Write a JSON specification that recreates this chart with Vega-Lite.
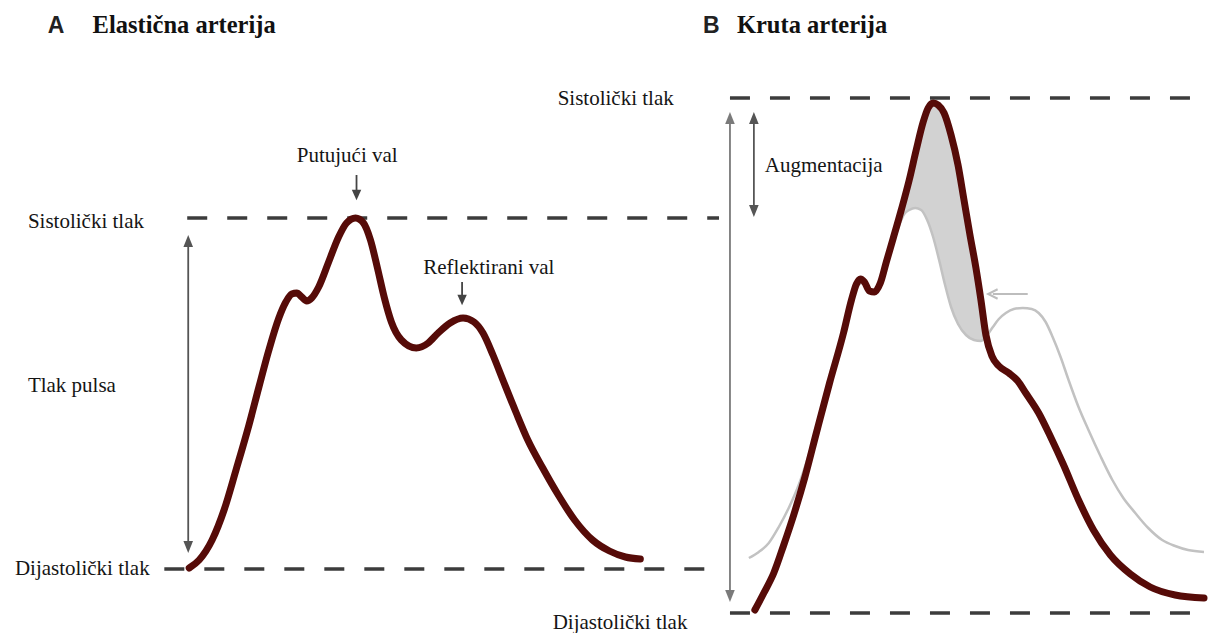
{
  "$schema": "https://vega.github.io/schema/vega-lite/v6.json",
  "width": 1209,
  "height": 633,
  "autosize": {"type": "fit", "contains": "padding"},
  "padding": 0,
  "background": "white",
  "config": {"view": {"stroke": null}},
  "datasets": {
    "dashes": [
      {"x": 188, "x2": 722, "y": 218},
      {"x": 165, "x2": 718, "y": 569},
      {"x": 733, "x2": 1209, "y": 98},
      {"x": 733, "x2": 1209, "y": 613}
    ],
    "fill": [
      {"x": 903, "top": 217, "bottom": 225},
      {"x": 907, "top": 200, "bottom": 215},
      {"x": 913, "top": 180, "bottom": 210},
      {"x": 919, "top": 154, "bottom": 208},
      {"x": 925, "top": 130, "bottom": 210},
      {"x": 931, "top": 111, "bottom": 220},
      {"x": 937, "top": 103, "bottom": 237},
      {"x": 943, "top": 106, "bottom": 260},
      {"x": 949, "top": 115, "bottom": 285},
      {"x": 955, "top": 135, "bottom": 307},
      {"x": 962, "top": 165, "bottom": 324},
      {"x": 968, "top": 200, "bottom": 334},
      {"x": 974, "top": 235, "bottom": 339},
      {"x": 980, "top": 268, "bottom": 341},
      {"x": 985, "top": 300, "bottom": 341},
      {"x": 989, "top": 328, "bottom": 338},
      {"x": 991, "top": 337, "bottom": 337}
    ],
    "gray": [
      {"x": 752, "y": 558}, {"x": 762, "y": 552}, {"x": 772, "y": 543}, {"x": 782, "y": 527},
      {"x": 792, "y": 508}, {"x": 802, "y": 485}, {"x": 812, "y": 455}, {"x": 822, "y": 420},
      {"x": 833, "y": 383}, {"x": 843, "y": 345}, {"x": 852, "y": 310}, {"x": 860, "y": 287},
      {"x": 866, "y": 283}, {"x": 872, "y": 290}, {"x": 878, "y": 292}, {"x": 884, "y": 284},
      {"x": 890, "y": 265}, {"x": 897, "y": 243}, {"x": 903, "y": 225}, {"x": 908, "y": 214},
      {"x": 913, "y": 210}, {"x": 919, "y": 208}, {"x": 925, "y": 210}, {"x": 931, "y": 220},
      {"x": 937, "y": 237}, {"x": 943, "y": 260}, {"x": 949, "y": 285}, {"x": 955, "y": 307},
      {"x": 962, "y": 324}, {"x": 970, "y": 335}, {"x": 978, "y": 340}, {"x": 985, "y": 341},
      {"x": 990, "y": 337}, {"x": 997, "y": 327}, {"x": 1003, "y": 319}, {"x": 1010, "y": 313},
      {"x": 1018, "y": 309}, {"x": 1027, "y": 308}, {"x": 1036, "y": 309}, {"x": 1043, "y": 313},
      {"x": 1050, "y": 322}, {"x": 1057, "y": 337}, {"x": 1065, "y": 357}, {"x": 1073, "y": 380},
      {"x": 1083, "y": 407}, {"x": 1093, "y": 430}, {"x": 1105, "y": 456}, {"x": 1117, "y": 480},
      {"x": 1128, "y": 498}, {"x": 1140, "y": 513}, {"x": 1153, "y": 528}, {"x": 1167, "y": 540},
      {"x": 1180, "y": 546}, {"x": 1193, "y": 550}, {"x": 1209, "y": 552}
    ],
    "red": [
      {"curve": "A", "x": 190, "y": 568}, {"curve": "A", "x": 200, "y": 560}, {"curve": "A", "x": 213, "y": 540},
      {"curve": "A", "x": 225, "y": 510}, {"curve": "A", "x": 237, "y": 470}, {"curve": "A", "x": 250, "y": 425},
      {"curve": "A", "x": 260, "y": 387}, {"curve": "A", "x": 270, "y": 350}, {"curve": "A", "x": 280, "y": 318},
      {"curve": "A", "x": 287, "y": 302}, {"curve": "A", "x": 293, "y": 294}, {"curve": "A", "x": 298, "y": 293},
      {"curve": "A", "x": 303, "y": 297}, {"curve": "A", "x": 308, "y": 301}, {"curve": "A", "x": 313, "y": 298},
      {"curve": "A", "x": 320, "y": 287}, {"curve": "A", "x": 330, "y": 262}, {"curve": "A", "x": 340, "y": 237},
      {"curve": "A", "x": 348, "y": 223}, {"curve": "A", "x": 357, "y": 218}, {"curve": "A", "x": 365, "y": 223},
      {"curve": "A", "x": 372, "y": 240}, {"curve": "A", "x": 379, "y": 268}, {"curve": "A", "x": 386, "y": 298},
      {"curve": "A", "x": 393, "y": 322}, {"curve": "A", "x": 403, "y": 340}, {"curve": "A", "x": 418, "y": 348},
      {"curve": "A", "x": 430, "y": 343}, {"curve": "A", "x": 440, "y": 333}, {"curve": "A", "x": 452, "y": 323},
      {"curve": "A", "x": 465, "y": 318}, {"curve": "A", "x": 476, "y": 322}, {"curve": "A", "x": 485, "y": 333},
      {"curve": "A", "x": 495, "y": 355}, {"curve": "A", "x": 505, "y": 380}, {"curve": "A", "x": 518, "y": 412},
      {"curve": "A", "x": 530, "y": 440}, {"curve": "A", "x": 545, "y": 468}, {"curve": "A", "x": 560, "y": 494},
      {"curve": "A", "x": 577, "y": 520}, {"curve": "A", "x": 595, "y": 540}, {"curve": "A", "x": 612, "y": 551},
      {"curve": "A", "x": 628, "y": 557}, {"curve": "A", "x": 643, "y": 559},
      {"curve": "B", "x": 758, "y": 610}, {"curve": "B", "x": 767, "y": 593}, {"curve": "B", "x": 777, "y": 573},
      {"curve": "B", "x": 787, "y": 545}, {"curve": "B", "x": 797, "y": 515}, {"curve": "B", "x": 808, "y": 478},
      {"curve": "B", "x": 820, "y": 432}, {"curve": "B", "x": 833, "y": 383}, {"curve": "B", "x": 847, "y": 333},
      {"curve": "B", "x": 855, "y": 300}, {"curve": "B", "x": 860, "y": 284}, {"curve": "B", "x": 864, "y": 279},
      {"curve": "B", "x": 868, "y": 282}, {"curve": "B", "x": 873, "y": 291}, {"curve": "B", "x": 878, "y": 292},
      {"curve": "B", "x": 884, "y": 283}, {"curve": "B", "x": 890, "y": 262}, {"curve": "B", "x": 897, "y": 238},
      {"curve": "B", "x": 905, "y": 210}, {"curve": "B", "x": 913, "y": 180}, {"curve": "B", "x": 920, "y": 150},
      {"curve": "B", "x": 927, "y": 122}, {"curve": "B", "x": 932, "y": 108}, {"curve": "B", "x": 937, "y": 103},
      {"curve": "B", "x": 942, "y": 105}, {"curve": "B", "x": 948, "y": 113}, {"curve": "B", "x": 955, "y": 135},
      {"curve": "B", "x": 962, "y": 165}, {"curve": "B", "x": 968, "y": 200}, {"curve": "B", "x": 974, "y": 235},
      {"curve": "B", "x": 980, "y": 268}, {"curve": "B", "x": 985, "y": 300}, {"curve": "B", "x": 990, "y": 335},
      {"curve": "B", "x": 996, "y": 356}, {"curve": "B", "x": 1003, "y": 366}, {"curve": "B", "x": 1013, "y": 373},
      {"curve": "B", "x": 1022, "y": 381}, {"curve": "B", "x": 1030, "y": 393}, {"curve": "B", "x": 1043, "y": 413},
      {"curve": "B", "x": 1055, "y": 437}, {"curve": "B", "x": 1068, "y": 465}, {"curve": "B", "x": 1083, "y": 500},
      {"curve": "B", "x": 1098, "y": 530}, {"curve": "B", "x": 1115, "y": 555}, {"curve": "B", "x": 1135, "y": 574},
      {"curve": "B", "x": 1155, "y": 587}, {"curve": "B", "x": 1180, "y": 595}, {"curve": "B", "x": 1209, "y": 598}
    ],
    "shafts": [
      {"arrow": "pulse", "x": 189, "x2": 189, "y": 240, "y2": 548},
      {"arrow": "long", "x": 733, "x2": 733, "y": 117, "y2": 597},
      {"arrow": "aug", "x": 757, "x2": 757, "y": 117, "y2": 212},
      {"arrow": "small", "x": 358, "x2": 358, "y": 175, "y2": 195},
      {"arrow": "small", "x": 464, "x2": 464, "y": 282, "y2": 300},
      {"arrow": "shift", "x": 997, "x2": 1032, "y": 294, "y2": 294}
    ],
    "heads": [
      {"arrow": "pulse", "dir": "up", "x": 189, "y": 241},
      {"arrow": "pulse", "dir": "down", "x": 189, "y": 547},
      {"arrow": "long", "dir": "up", "x": 733, "y": 118},
      {"arrow": "long", "dir": "down", "x": 733, "y": 596},
      {"arrow": "aug", "dir": "up", "x": 757, "y": 118},
      {"arrow": "aug", "dir": "down", "x": 757, "y": 211},
      {"arrow": "small", "dir": "down", "x": 358, "y": 195},
      {"arrow": "small", "dir": "down", "x": 464, "y": 300}
    ],
    "labels": [
      {"kind": "label", "x": 28, "y": 228, "text": "Sistolički tlak"},
      {"kind": "label", "x": 28, "y": 392, "text": "Tlak pulsa"},
      {"kind": "label", "x": 15, "y": 575, "text": "Dijastolički tlak"},
      {"kind": "label", "x": 298, "y": 162, "text": "Putujući val"},
      {"kind": "label", "x": 425, "y": 274, "text": "Reflektirani val"},
      {"kind": "label", "x": 560, "y": 105, "text": "Sistolički tlak"},
      {"kind": "label", "x": 768, "y": 172, "text": "Augmentacija"},
      {"kind": "label", "x": 555, "y": 629, "text": "Dijastolički tlak"},
      {"kind": "title", "x": 93, "y": 33, "text": "Elastična arterija"},
      {"kind": "title", "x": 740, "y": 33, "text": "Kruta arterija"},
      {"kind": "letter", "x": 48, "y": 33, "text": "A"},
      {"kind": "letter", "x": 706, "y": 33, "text": "B"}
    ]
  },
  "encoding": {
    "x": {"type": "quantitative", "scale": {"domain": [0, 1209], "nice": false, "zero": false}, "axis": null},
    "y": {"type": "quantitative", "scale": {"domain": [0, 633], "nice": false, "zero": false, "reverse": true}, "axis": null}
  },
  "layer": [
    {
      "data": {"name": "fill"},
      "mark": {"type": "area", "color": "#d2d2d2", "interpolate": "monotone"},
      "encoding": {
        "x": {"field": "x", "type": "quantitative"},
        "y": {"field": "top", "type": "quantitative"},
        "y2": {"field": "bottom"}
      }
    },
    {
      "data": {"name": "dashes"},
      "mark": {"type": "rule", "color": "#3c3c3c", "strokeWidth": 3.5, "strokeDash": [20, 20]},
      "encoding": {
        "x": {"field": "x", "type": "quantitative"},
        "x2": {"field": "x2"},
        "y": {"field": "y", "type": "quantitative"}
      }
    },
    {
      "data": {"name": "gray"},
      "mark": {"type": "line", "color": "#c2c2c2", "strokeWidth": 2.5, "interpolate": "monotone"},
      "encoding": {
        "x": {"field": "x", "type": "quantitative"},
        "y": {"field": "y", "type": "quantitative"}
      }
    },
    {
      "data": {"name": "red"},
      "mark": {"type": "line", "color": "#560b08", "strokeWidth": 7, "interpolate": "monotone", "strokeCap": "round", "strokeJoin": "round"},
      "encoding": {
        "x": {"field": "x", "type": "quantitative"},
        "y": {"field": "y", "type": "quantitative"},
        "detail": {"field": "curve"}
      }
    },
    {
      "data": {"name": "shafts"},
      "mark": {"type": "rule", "strokeWidth": 1.8},
      "encoding": {
        "x": {"field": "x", "type": "quantitative"},
        "x2": {"field": "x2"},
        "y": {"field": "y", "type": "quantitative"},
        "y2": {"field": "y2"},
        "strokeWidth": {"field": "arrow", "type": "nominal", "legend": null,
          "scale": {"domain": ["pulse", "long", "aug", "small", "shift"], "range": [1.8, 1.8, 1.8, 2.4, 2]}},
        "color": {"field": "arrow", "type": "nominal", "legend": null,
          "scale": {"domain": ["pulse", "long", "aug", "small", "shift"], "range": ["#555555", "#7a7a7a", "#555555", "#444444", "#bdbdbd"]}}
      }
    },
    {
      "data": {"name": "heads"},
      "transform": [{"filter": "datum.arrow !== 'small'"}],
      "mark": {"type": "point", "filled": true, "size": 144, "opacity": 1},
      "encoding": {
        "x": {"field": "x", "type": "quantitative"},
        "y": {"field": "y", "type": "quantitative"},
        "shape": {"field": "dir", "type": "nominal", "legend": null,
          "scale": {"domain": ["up", "down"], "range": ["M-0.8,1L0.8,1L0,-1Z", "M-0.8,-1L0.8,-1L0,1Z"]}},
        "color": {"field": "arrow", "type": "nominal", "legend": null,
          "scale": {"domain": ["pulse", "long", "aug", "small", "shift"], "range": ["#555555", "#7a7a7a", "#555555", "#444444", "#bdbdbd"]}}
      }
    },
    {
      "data": {"name": "heads"},
      "transform": [{"filter": "datum.arrow === 'small'"}],
      "mark": {"type": "point", "filled": true, "size": 110, "opacity": 1, "color": "#444444", "shape": "M-0.9,-1L0.9,-1L0,1Z"},
      "encoding": {
        "x": {"field": "x", "type": "quantitative"},
        "y": {"field": "y", "type": "quantitative"}
      }
    },
    {
      "data": {"name": "shafts"},
      "transform": [{"filter": "datum.arrow === 'shift'"}],
      "mark": {"type": "point", "shape": "M 1 -1 L -1 0 L 1 1", "filled": false, "size": 90, "stroke": "#bdbdbd", "strokeWidth": 2, "opacity": 1},
      "encoding": {
        "x": {"field": "x", "type": "quantitative"},
        "y": {"field": "y", "type": "quantitative"}
      }
    },
    {
      "data": {"name": "labels"},
      "transform": [{"filter": "datum.kind === 'label'"}],
      "mark": {"type": "text", "font": "Liberation Serif", "fontSize": 21, "align": "left", "baseline": "alphabetic", "color": "#151515"},
      "encoding": {
        "x": {"field": "x", "type": "quantitative"},
        "y": {"field": "y", "type": "quantitative"},
        "text": {"field": "text"}
      }
    },
    {
      "data": {"name": "labels"},
      "transform": [{"filter": "datum.kind === 'title'"}],
      "mark": {"type": "text", "font": "Liberation Serif", "fontSize": 24.5, "fontWeight": "bold", "align": "left", "baseline": "alphabetic", "color": "#111111"},
      "encoding": {
        "x": {"field": "x", "type": "quantitative"},
        "y": {"field": "y", "type": "quantitative"},
        "text": {"field": "text"}
      }
    },
    {
      "data": {"name": "labels"},
      "transform": [{"filter": "datum.kind === 'letter'"}],
      "mark": {"type": "text", "font": "Liberation Sans", "fontSize": 23, "fontWeight": "bold", "align": "left", "baseline": "alphabetic", "color": "#222222"},
      "encoding": {
        "x": {"field": "x", "type": "quantitative"},
        "y": {"field": "y", "type": "quantitative"},
        "text": {"field": "text"}
      }
    }
  ]
}
